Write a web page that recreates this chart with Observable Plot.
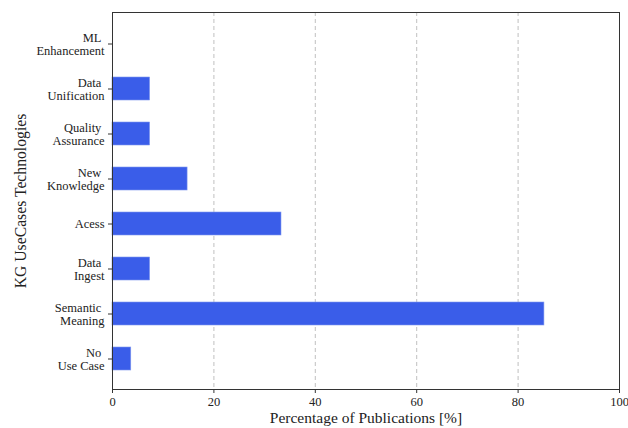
<!DOCTYPE html>
<html><head><meta charset="utf-8">
<script src="https://cdn.jsdelivr.net/npm/d3@7"></script>
<script src="https://cdn.jsdelivr.net/npm/@observablehq/plot@0.6"></script>
<style>body{margin:0;background:#fff}</style>
</head><body><div id="chart"></div>
<script>
const categories = ["ML Enhancement","Data Unification","Quality Assurance","New Knowledge","Acess","Data Ingest","Semantic Meaning","No Use Case"];
const tickLabels = ["ML\u00a0\nEnhancement","Data\u00a0\nUnification","Quality\u00a0\nAssurance","New\u00a0\nKnowledge","Acess","Data\u00a0\nIngest","Semantic\u00a0\nMeaning","No\u00a0\nUse Case"];
const values = [0, 7.41, 7.41, 14.81, 33.33, 7.41, 85.19, 3.70];
const xTicks = [0, 20, 40, 60, 80, 100];
const xTitle = "Percentage of Publications [%]";
const yTitle = "KG UseCases Technologies";

const data = categories.map((c, i) => ({category: c, value: values[i], label: tickLabels[i]}));
const font = "Liberation Serif";
const ink = "#222";

const chart = Plot.plot({
  width: 628, height: 428,
  marginLeft: 112, marginRight: 9, marginTop: 12, marginBottom: 39,
  style: {fontFamily: font, background: "#fff", color: ink, overflow: "visible"},
  x: {domain: [0, 100], ticks: xTicks},
  y: {domain: categories, paddingInner: 0.5, paddingOuter: 0.375},
  marks: [
    Plot.gridX(xTicks.slice(1, -1), {stroke: "#b0b0b0", strokeOpacity: 1, strokeDasharray: "4,3", strokeWidth: 0.8}),
    Plot.barX(data, {x: "value", y: "category", fill: "#3a5de9", stroke: "#7f97ef", strokeWidth: 0.6}),
    Plot.frame({stroke: "#333", strokeWidth: 1}),
    Plot.axisX({ticks: xTicks, tickSize: 4, tickFormat: () => "", label: null, stroke: "#333"}),
    Plot.axisY({tickSize: 4, tickFormat: () => "", label: null, stroke: "#333"}),
    Plot.text(xTicks, {x: d => d, text: d => String(d), frameAnchor: "bottom", lineAnchor: "top", dy: 8, fontSize: 12.5, fontFamily: font, fill: ink}),
    Plot.text(data, {y: "category", text: "label", frameAnchor: "left", textAnchor: "end", lineAnchor: "middle", dx: -8, lineHeight: 1.05, fontSize: 12.5, fontFamily: font, fill: ink}),
    Plot.text([xTitle], {frameAnchor: "bottom", lineAnchor: "middle", dy: 29, fontSize: 15.5, fontFamily: font, fill: ink}),
    Plot.text([yTitle], {frameAnchor: "left", textAnchor: "middle", lineAnchor: "middle", rotate: -90, dx: -92, fontSize: 15.7, fontFamily: font, fill: ink})
  ]
});
document.getElementById("chart").append(chart);
</script>
</body></html>
